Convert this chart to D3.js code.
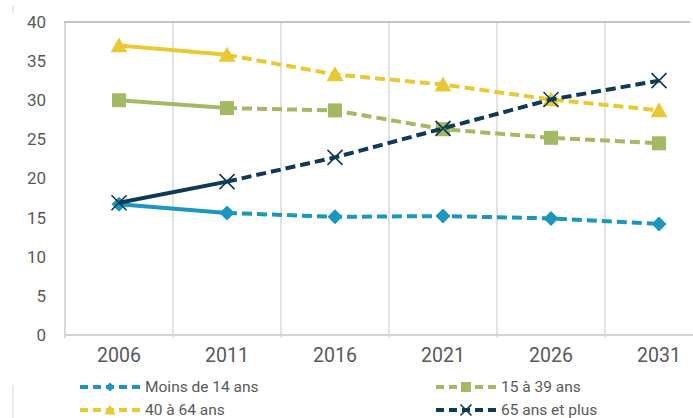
<!DOCTYPE html>
<html>
<head>
<meta charset="utf-8">
<script src="https://cdn.jsdelivr.net/npm/d3@7"></script>
<style>
  html, body { margin: 0; padding: 0; background: #fff; }
  svg { display: block; font-family: Roboto, "DejaVu Sans", sans-serif; }
</style>
</head>
<body>
<div id="base"></div>
<script>
// data
var years = ["2006", "2011", "2016", "2021", "2026", "2031"];
var moins14 = [16.7, 15.6, 15.1, 15.2, 14.9, 14.2];
var de15a39 = [30.0, 29.0, 28.7, 26.3, 25.2, 24.5];
var de40a64 = [37.0, 35.8, 33.3, 32.0, 30.1, 28.7];
var plus65 = [16.9, 19.6, 22.7, 26.4, 30.1, 32.5];
var yTicks = [0, 5, 10, 15, 20, 25, 30, 35, 40];

var series = [
  { name: "Moins de 14 ans", values: moins14, color: "#1b97bf", marker: "diamond" },
  { name: "15 à 39 ans", values: de15a39, color: "#a3b964", marker: "square" },
  { name: "40 à 64 ans", values: de40a64, color: "#e9c933", marker: "triangle" },
  { name: "65 ans et plus", values: plus65, color: "#0d3a54", marker: "cross" }
];

// looks
var width = 693, height = 418;
var plotLeft = 65, plotTop = 22, plotBottom = 335, frameRight = 690;
var textColor = "#595959";
var gridColor = "#d9d9d9";
var lineWidth = 4;
var dash = "10,5";

const svg = d3.select("#base").append("svg")
    .attr("width", width)
    .attr("height", height);

const x = d3.scaleBand().domain(years).range([plotLeft, plotLeft + 6 * 108]).padding(0);
const y = d3.scaleLinear().domain([0, 40]).range([plotBottom, plotTop]);
const cx = d => x(d) + x.bandwidth() / 2;

// page crop marks on the left
svg.append("line").attr("x1", 13).attr("x2", 13).attr("y1", 5).attr("y2", 13)
    .attr("stroke", "#d6d6d6").attr("stroke-width", 1);
svg.append("line").attr("x1", 13).attr("x2", 13).attr("y1", 385).attr("y2", 418)
    .attr("stroke", "#d6d6d6").attr("stroke-width", 1);

// vertical grid lines at band edges
const grid = svg.append("g");
years.forEach(function(yr, i) {
  grid.append("line")
      .attr("x1", x(yr)).attr("x2", x(yr))
      .attr("y1", plotTop).attr("y2", plotBottom + 3)
      .attr("stroke", gridColor)
      .attr("stroke-width", i === 0 ? 2 : 1.5);
});
// frame top and bottom
svg.append("line").attr("x1", plotLeft - 1).attr("x2", frameRight)
    .attr("y1", plotTop).attr("y2", plotTop)
    .attr("stroke", "#c4c4c4").attr("stroke-width", 2);
svg.append("line").attr("x1", plotLeft - 1).attr("x2", width)
    .attr("y1", plotBottom).attr("y2", plotBottom)
    .attr("stroke", "#d4d4d4").attr("stroke-width", 2);

// y axis labels
const yAxis = svg.append("g")
    .attr("transform", `translate(${plotLeft - 19},0)`)
    .call(d3.axisLeft(y).tickValues(yTicks).tickSize(0).tickPadding(0));
yAxis.select(".domain").remove();
yAxis.selectAll("text")
    .attr("fill", textColor)
    .style("font-size", "17px")
    .style("font-family", "Roboto, sans-serif");

// x axis labels
const xAxis = svg.append("g")
    .attr("transform", `translate(0,${plotBottom + 13})`)
    .call(d3.axisBottom(x).tickSize(0).tickPadding(0));
xAxis.select(".domain").remove();
xAxis.selectAll("text")
    .attr("fill", textColor)
    .style("font-size", "19.5px")
    .style("font-family", "Roboto, sans-serif");

const line = d3.line().x(d => cx(d.year)).y(d => y(d.value));

function markerPath(kind, s) {
  var h = s / 2;
  if (kind === "diamond") return `M0,${-h}L${h},0L0,${h}L${-h},0Z`;
  if (kind === "square") return `M${-h},${-h}H${h}V${h}H${-h}Z`;
  if (kind === "triangle") return `M0,${-h * 0.95}L${h},${h * 0.8}L${-h},${h * 0.8}Z`;
  return `M${-h},${-h}L${h},${h}M${h},${-h}L${-h},${h}`;
}

function drawMarker(g, kind, color, px, py, s) {
  var p = g.append("path")
      .attr("d", markerPath(kind, s))
      .attr("transform", `translate(${px},${py})`);
  if (kind === "cross") {
    p.attr("fill", "none").attr("stroke", color).attr("stroke-width", 1.6);
  } else {
    p.attr("fill", color);
  }
}

var markerSize = { diamond: 15, square: 14, triangle: 17, cross: 15 };

// lines: solid for 2006-2011, dashed after
series.forEach(function(s) {
  var pts = s.values.map((v, i) => ({ year: years[i], value: v }));
  var g = svg.append("g");
  g.append("path")
      .attr("d", line(pts.slice(0, 2)))
      .attr("fill", "none")
      .attr("stroke", s.color)
      .attr("stroke-width", lineWidth);
  g.append("path")
      .attr("d", line(pts.slice(1)))
      .attr("fill", "none")
      .attr("stroke", s.color)
      .attr("stroke-width", lineWidth)
      .attr("stroke-dasharray", dash);
  pts.forEach(function(p) {
    drawMarker(g, s.marker, s.color, cx(p.year), y(p.value), markerSize[s.marker]);
  });
});

// legend
var legendPos = [[80, 387], [436, 387], [80, 410], [436, 410]];
var legendMarker = { diamond: 9, square: 10, triangle: 11, cross: 11 };
series.forEach(function(s, i) {
  var lx = legendPos[i][0], ly = legendPos[i][1];
  var g = svg.append("g");
  g.append("line")
      .attr("x1", lx).attr("x2", lx + 61)
      .attr("y1", ly).attr("y2", ly)
      .attr("stroke", s.color)
      .attr("stroke-width", lineWidth)
      .attr("stroke-dasharray", "8,5");
  drawMarker(g, s.marker, s.color, lx + 30, ly, legendMarker[s.marker]);
  g.append("text")
      .attr("x", lx + 65)
      .attr("y", ly)
      .attr("dy", "0.35em")
      .attr("fill", textColor)
      .style("font-size", "15.5px")
      .text(s.name);
});
</script>
</body>
</html>
